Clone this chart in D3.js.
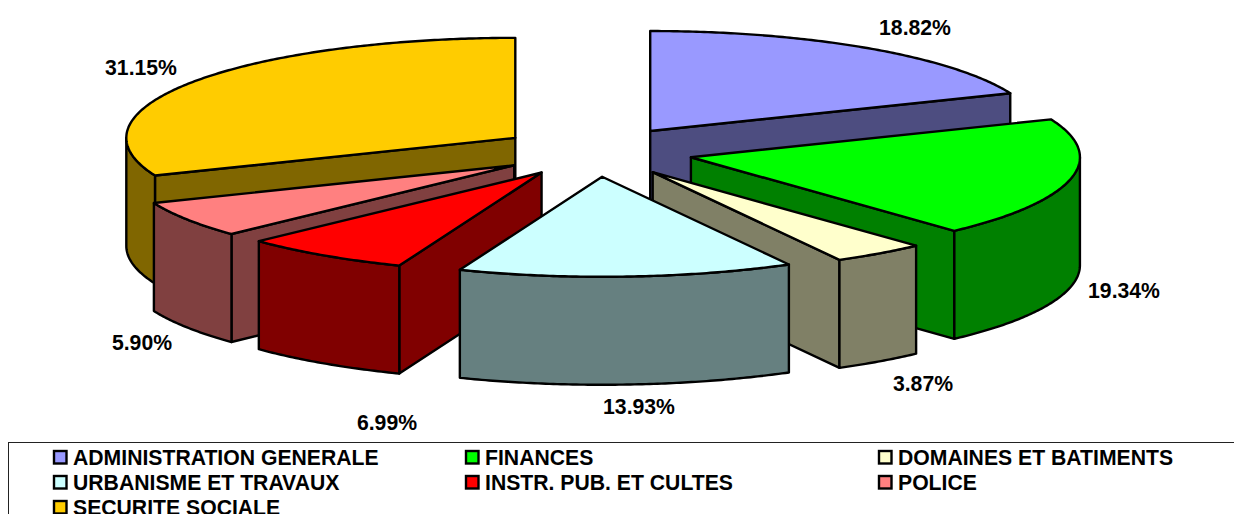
<!DOCTYPE html>
<html>
<head>
<meta charset="utf-8">
<script src="https://cdnjs.cloudflare.com/ajax/libs/d3/7.8.5/d3.min.js"></script>
<style>
    html, body { margin: 0; padding: 0; background: #fff; overflow: hidden; }
    text { font-family: "Liberation Sans", Arial, sans-serif; font-weight: bold; fill: #000; }
</style>
</head>
<body>
<div id="chart"></div>
<script>
const categories = ['ADMINISTRATION GENERALE', 'FINANCES', 'DOMAINES ET BATIMENTS', 'URBANISME ET TRAVAUX', 'INSTR. PUB. ET CULTES', 'POLICE', 'SECURITE SOCIALE'];
const percents = [18.82, 19.34, 3.87, 13.93, 6.99, 5.90, 31.15];
const colors = ['#9999FF', '#00FF00', '#FFFFCC', '#CCFFFF', '#FF0000', '#FF8080', '#FFCC00'];

const width = 1234, height = 514;
const center = { x: 596, y: 151.8 };
const rx = 389, ry = 100;
const depth = 108;
const explode = 0.25;

// label centres were placed by hand in the original, so they don't follow the slices
const labelPos = [[915, 27], [1124, 290], [923, 383], [639, 406], [387, 422], [142, 342], [141, 67]];

const svg = d3.select('#chart').append('svg')
    .attr('width', width)
    .attr('height', height);

// unit circle -> flattened ellipse on the page
const xScale = d3.scaleLinear().domain([-1, 1]).range([center.x - rx, center.x + rx]);
const yScale = d3.scaleLinear().domain([-1, 1]).range([center.y - ry, center.y + ry]);
const onRim = a => [Math.sin(a), -Math.cos(a)];
const arcSteps = (a0, a1) => {
    const n = Math.max(2, Math.ceil((a1 - a0) / 0.01));
    return d3.range(n + 1).map(i => a0 + (a1 - a0) * i / n);
};

const slices = d3.pie().sort(null)(percents).map((d, i) => {
    const mid = (d.startAngle + d.endAngle) / 2;
    return {
        i,
        start: d.startAngle,
        end: d.endAngle,
        dx: explode * Math.sin(mid),
        dy: -explode * Math.cos(mid)
    };
});

const line = d3.line();

function toPage(s, p, drop) {
    return [xScale(p[0] + s.dx), yScale(p[1] + s.dy) + (drop || 0)];
}

function topPath(s) {
    const pts = [toPage(s, [0, 0])].concat(arcSteps(s.start, s.end).map(a => toPage(s, onRim(a))));
    return line(pts) + 'Z';
}

function cutPath(s, a) {
    return line([toPage(s, [0, 0]), toPage(s, onRim(a)), toPage(s, onRim(a), depth), toPage(s, [0, 0], depth)]) + 'Z';
}

function outerPath(s) {
    const a0 = Math.max(s.start, Math.PI / 2);
    const a1 = Math.min(s.end, Math.PI * 3 / 2);
    if (a1 <= a0) return null;
    const steps = arcSteps(a0, a1);
    const upper = steps.map(a => toPage(s, onRim(a)));
    const lower = steps.slice().reverse().map(a => toPage(s, onRim(a), depth));
    return line(upper.concat(lower)) + 'Z';
}

// back to front
const order = slices.slice().sort((a, b) => a.dy - b.dy);
const pieG = svg.append('g')
    .attr('stroke', '#000')
    .attr('stroke-width', 2.4)
    .attr('stroke-linejoin', 'round');

order.forEach(s => {
    const g = pieG.append('g');
    const c = d3.rgb(colors[s.i]);
    const dark = d3.rgb(c.r / 2, c.g / 2, c.b / 2);
    if (Math.sin(s.start) < -1e-6) g.append('path').attr('d', cutPath(s, s.start)).attr('fill', dark);
    if (Math.sin(s.end) > 1e-6) g.append('path').attr('d', cutPath(s, s.end)).attr('fill', dark);
    const outer = outerPath(s);
    if (outer) g.append('path').attr('d', outer).attr('fill', dark);
    g.append('path').attr('d', topPath(s)).attr('fill', colors[s.i]);
});

svg.append('g').selectAll('text')
    .data(percents)
    .enter().append('text')
    .attr('x', (d, i) => labelPos[i][0])
    .attr('y', (d, i) => labelPos[i][1])
    .attr('text-anchor', 'middle')
    .attr('dominant-baseline', 'central')
    .style('font-size', '21.2px')
    .text(d => d3.format('.2f')(d) + '%');

// legend, its frame runs off the bottom and right of the page
svg.append('rect')
    .attr('x', 8.5).attr('y', 442.5)
    .attr('width', 1300).attr('height', 120)
    .attr('fill', 'none')
    .attr('stroke', '#222')
    .attr('stroke-width', 1);

const legendCols = [53, 465, 878];
const legend = svg.append('g').selectAll('g')
    .data(categories)
    .enter().append('g')
    .attr('transform', (d, i) => `translate(${legendCols[i % 3]},${457 + Math.floor(i / 3) * 25})`);

legend.append('rect')
    .attr('x', 1).attr('y', -6)
    .attr('width', 12.5).attr('height', 12.5)
    .attr('fill', (d, i) => colors[i])
    .attr('stroke', '#000')
    .attr('stroke-width', 2.4);

legend.append('text')
    .attr('x', 20)
    .attr('y', 0.5)
    .attr('dominant-baseline', 'central')
    .style('font-size', '21.2px')
    .text(d => d);
</script>
</body>
</html>
